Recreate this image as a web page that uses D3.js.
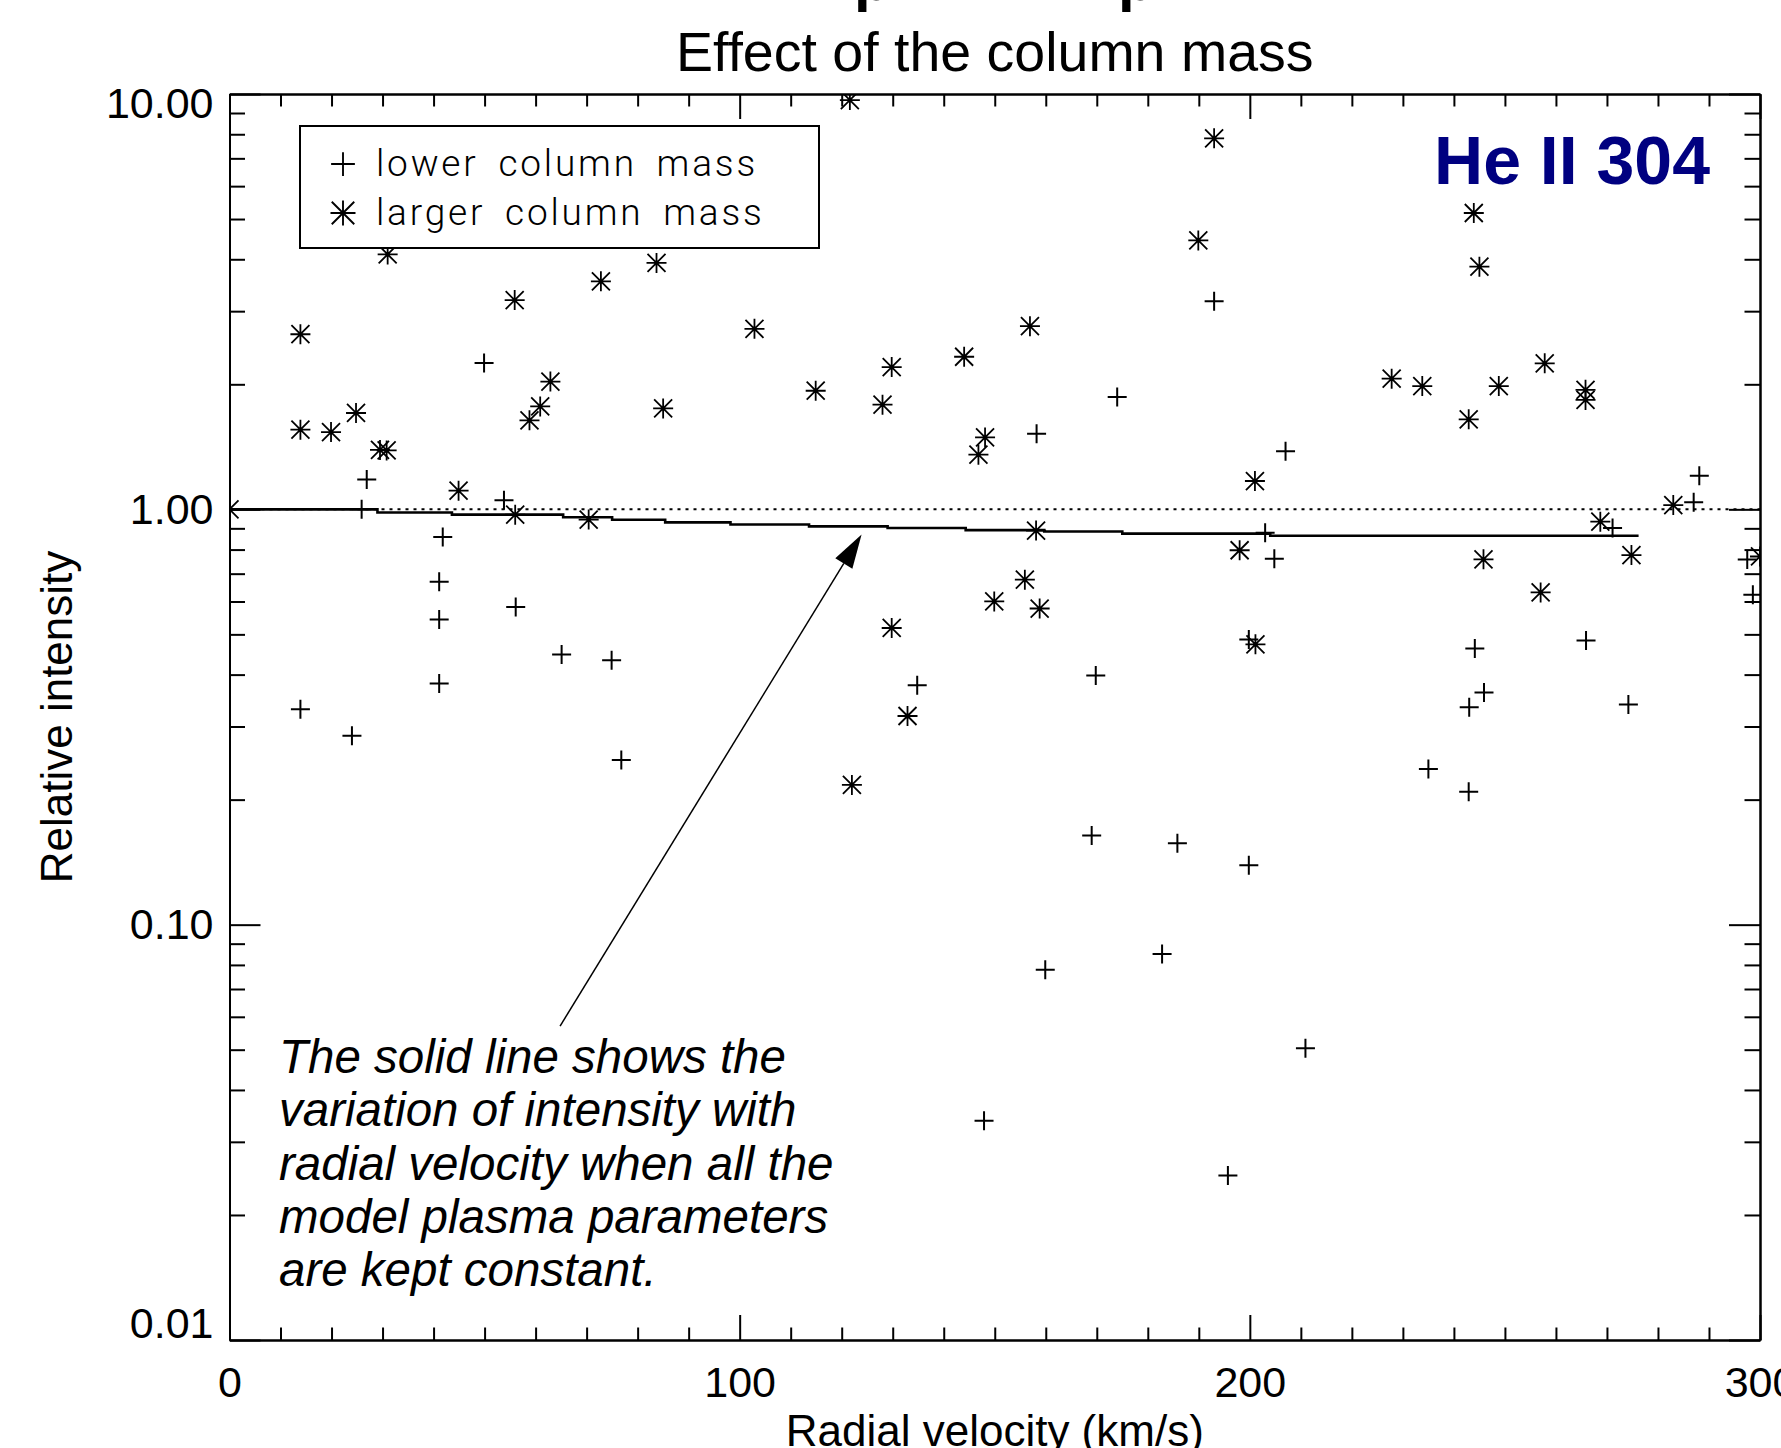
<!DOCTYPE html>
<html>
<head>
<meta charset="utf-8">
<script src="https://cdn.jsdelivr.net/npm/d3@7"></script>
<style>
  html, body { margin: 0; padding: 0; background: #fff; }
  svg { display: block; }
</style>
</head>
<body>
<script>
// ---------------- data ----------------
const xTicksMajor = [0, 100, 200, 300];
const xTickLabels = ["0", "100", "200", "300"];
const yTicksMajor = [0.01, 0.1, 1, 10];
const yTickLabels = ["0.01", "0.10", "1.00", "10.00"];

// "+" lower column mass : radial velocity (km/s), relative intensity
const lowerV = [13.9, 24.0, 25.9, 26.9, 41.8, 41.1, 41.1, 41.1, 49.9, 53.8, 56.1, 65.1, 74.9, 76.8,
  134.8, 147.9, 158.2, 159.9, 169.0, 169.8, 174.0, 182.8, 185.8, 193.0, 195.7, 199.8, 199.8,
  203.0, 204.8, 207.0, 210.9, 235.0, 243.0, 244.1, 242.9, 245.9, 265.9, 271.1, 274.2,
  287.0, 288.1, 297.5, 298.6];
const lowerI = [0.330, 0.285, 1.00, 1.18, 0.858, 0.669, 0.543, 0.381, 2.25, 1.051, 0.582, 0.447, 0.433, 0.249,
  0.377, 0.0337, 1.52, 0.0779, 0.164, 0.398, 1.864, 0.085, 0.157, 3.17, 0.0249, 0.486, 0.139,
  0.878, 0.760, 1.379, 0.0504, 0.237, 0.334, 0.462, 0.209, 0.362, 0.483, 0.902, 0.339,
  1.04, 1.205, 0.757, 0.623];

// "*" larger column mass
const largerV = [0, 13.9, 13.9, 19.9, 24.8, 29.5, 30.8, 31.0, 44.9, 55.9, 56.0, 58.8, 60.9, 62.9,
  70.4, 72.8, 83.7, 85.0, 102.9, 114.9, 121.6, 122.0, 128.0, 129.8, 129.8, 132.9, 144.0,
  146.8, 148.1, 149.9, 155.9, 156.9, 158.1, 158.8, 189.9, 193.0, 198.0, 201.1, 201.0,
  227.8, 233.8, 242.9, 243.9, 245.0, 245.8, 248.8, 257.0, 257.8, 265.8, 265.8, 268.7,
  274.8, 283.0, 300];
const largerI = [1.0, 2.64, 1.555, 1.535, 1.706, 1.39, 1.386, 4.11, 1.109, 3.19, 0.971, 1.638, 1.769, 2.03,
  0.945, 3.54, 3.92, 1.75, 2.72, 1.93, 9.67, 0.217, 1.786, 2.20, 0.518, 0.318, 2.33,
  1.354, 1.49, 0.600, 0.677, 2.76, 0.889, 0.577, 4.44, 7.82, 0.797, 0.473, 1.17,
  2.063, 1.98, 1.647, 5.17, 3.84, 0.758, 1.98, 0.631, 2.247, 1.94, 1.834, 0.934,
  0.776, 1.024, 0.77];

// solid line: constant plasma parameters
const lineV = [0, 29, 43.6, 65.4, 75, 85.4, 98.2, 113.6, 129, 144.3, 159.7, 175, 204, 276.2];
const lineI = [1.0, 0.983, 0.971, 0.957, 0.944, 0.930, 0.919, 0.910, 0.902, 0.891, 0.884, 0.874, 0.864, 0.864];

// reference level
const refV = [0, 300];
const refI = [1, 1];

// arrow annotation (tail, tip) in data space
const arrowV = [64.8, 123.9];
const arrowI = [0.057, 0.870];

const annotationLines = [
  "The solid line shows the",
  "variation of intensity with",
  "radial velocity when all the",
  "model plasma parameters",
  "are kept constant."
];
const legendLabels = ["lower column mass", "larger column mass"];

// ---------------- layout ----------------
const W = 1781, H = 1448;
const L = 229.5, R = 1760, T = 94, B = 1340;

const svg = d3.select("body").append("svg")
  .attr("width", W).attr("height", H)
  .attr("viewBox", `0 0 ${W} ${H}`);

const x = d3.scaleLinear().domain([0, 300]).range([L, R]);
const y = d3.scaleLog().domain([0.01, 10]).range([B, T]);

const FONT = "'Liberation Sans', Arial, Helvetica, sans-serif";

// clip
svg.append("defs").append("clipPath").attr("id", "plotclip")
  .append("rect").attr("x", L).attr("y", T).attr("width", R - L).attr("height", B - T);

// cut-off upper title descenders (the line above is outside the picture)
svg.append("g").selectAll("text").data(["p", "p"]).join("text")
  .attr("x", (d, i) => [854, 1118][i]).attr("y", 0)
  .attr("font-family", FONT).attr("font-weight", "bold").attr("font-size", 60)
  .text(d => d);

// title
svg.append("text")
  .attr("x", (L + R) / 2).attr("y", 71)
  .attr("text-anchor", "middle")
  .attr("font-family", FONT).attr("font-size", 55.5)
  .text("Effect of the column mass");

// ---------------- axes ----------------
const xMinor = d3.range(0, 301, 10).filter(v => v % 100 !== 0);
const yMinor = [];
[-2, -1, 0].forEach(k => { for (let m = 2; m <= 9; m++) yMinor.push(m * Math.pow(10, k)); });

function styleAxis(g) {
  g.selectAll("path.domain").attr("stroke", "#000").attr("stroke-width", 2);
  g.selectAll(".tick line").attr("stroke", "#000").attr("stroke-width", 2);
  g.selectAll(".tick text").attr("fill", "#000");
}

// bottom
svg.append("g").attr("transform", `translate(0,${B})`)
  .call(d3.axisBottom(x).tickValues(xTicksMajor).tickSizeInner(-25).tickSizeOuter(0).tickPadding(26)
    .tickFormat((d, i) => xTickLabels[i]))
  .call(g => g.selectAll("text").attr("font-family", FONT).attr("font-size", 43))
  .call(styleAxis);
svg.append("g").attr("transform", `translate(0,${B})`)
  .call(d3.axisBottom(x).tickValues(xMinor).tickSizeInner(-12.5).tickSizeOuter(0).tickFormat(""))
  .call(styleAxis);
// top
svg.append("g").attr("transform", `translate(0,${T})`)
  .call(d3.axisTop(x).tickValues(xTicksMajor).tickSizeInner(-25).tickSizeOuter(0).tickFormat(""))
  .call(styleAxis);
svg.append("g").attr("transform", `translate(0,${T})`)
  .call(d3.axisTop(x).tickValues(xMinor).tickSizeInner(-12.5).tickSizeOuter(0).tickFormat(""))
  .call(styleAxis);
// left
svg.append("g").attr("transform", `translate(${L},0)`)
  .call(d3.axisLeft(y).tickValues(yTicksMajor).tickSizeInner(-31).tickSizeOuter(0).tickPadding(16)
    .tickFormat((d, i) => yTickLabels[i]))
  .call(g => g.selectAll("text").attr("font-family", FONT).attr("font-size", 43)
    .attr("transform", d => d === 10 ? "translate(0,10)" : (d === 0.01 ? "translate(0,-16)" : null)))
  .call(styleAxis);
svg.append("g").attr("transform", `translate(${L},0)`)
  .call(d3.axisLeft(y).tickValues(yMinor).tickSizeInner(-15.5).tickSizeOuter(0).tickFormat(""))
  .call(styleAxis);
// right
svg.append("g").attr("transform", `translate(${R},0)`)
  .call(d3.axisRight(y).tickValues(yTicksMajor).tickSizeInner(-31).tickSizeOuter(0).tickFormat(""))
  .call(styleAxis);
svg.append("g").attr("transform", `translate(${R},0)`)
  .call(d3.axisRight(y).tickValues(yMinor).tickSizeInner(-15.5).tickSizeOuter(0).tickFormat(""))
  .call(styleAxis);

// axis titles
svg.append("text")
  .attr("x", (L + R) / 2).attr("y", 1446)
  .attr("text-anchor", "middle")
  .attr("font-family", FONT).attr("font-size", 44)
  .text("Radial velocity (km/s)");
svg.append("text")
  .attr("transform", `translate(72,${(T + B) / 2}) rotate(-90)`)
  .attr("text-anchor", "middle")
  .attr("font-family", FONT).attr("font-size", 44)
  .text("Relative intensity");

// ---------------- plot content ----------------
const plot = svg.append("g").attr("clip-path", "url(#plotclip)");

// dotted reference line at 1.0
plot.append("path")
  .datum(refV.map((v, i) => [v, refI[i]]))
  .attr("d", d3.line().x(d => x(d[0])).y(d => y(d[1])))
  .attr("fill", "none").attr("stroke", "#000").attr("stroke-width", 2)
  .attr("stroke-dasharray", "3,5");

// solid line
plot.append("path")
  .datum(lineV.map((v, i) => [v, lineI[i]]))
  .attr("d", d3.line().x(d => x(d[0])).y(d => y(d[1])).curve(d3.curveStepAfter))
  .attr("fill", "none").attr("stroke", "#000").attr("stroke-width", 2.6);

const plusPath = "M-9.5,0H9.5M0,-9.5V9.5";
const starPath = "M-10,0H10M0,-10V10M-9,-9L9,9M-9,9L9,-9";

plot.append("g").selectAll("path")
  .data(lowerV.map((v, i) => [v, lowerI[i]]))
  .join("path")
  .attr("transform", d => `translate(${x(d[0])},${y(d[1])})`)
  .attr("d", plusPath)
  .attr("fill", "none").attr("stroke", "#000").attr("stroke-width", 2);

plot.append("g").selectAll("path")
  .data(largerV.map((v, i) => [v, largerI[i]]))
  .join("path")
  .attr("transform", d => `translate(${x(d[0])},${y(d[1])})`)
  .attr("d", starPath)
  .attr("fill", "none").attr("stroke", "#000").attr("stroke-width", 1.8);

// ---------------- legend ----------------
const lg = svg.append("g");
lg.append("rect").attr("x", 300).attr("y", 126).attr("width", 519).attr("height", 122)
  .attr("fill", "#fff").attr("stroke", "#000").attr("stroke-width", 2);
const legendSym = [plusPath, starPath];
legendLabels.forEach((lab, i) => {
  const cy = 164 + i * 49;
  lg.append("path").attr("transform", `translate(343,${cy}) scale(1.25)`).attr("d", legendSym[i])
    .attr("fill", "none").attr("stroke", "#000").attr("stroke-width", 1.5);
  lg.append("text").attr("x", 376).attr("y", cy + 12)
    .attr("font-family", "Roboto, 'Liberation Sans', sans-serif").attr("font-weight", 300)
    .attr("font-size", 37).attr("letter-spacing", 2.8).attr("word-spacing", 8)
    .text(lab);
});

// He II 304 label
svg.append("text")
  .attr("x", 1710).attr("y", 184)
  .attr("text-anchor", "end")
  .attr("font-family", FONT).attr("font-weight", "bold").attr("font-size", 68)
  .attr("fill", "#000080")
  .text("He II 304");

// ---------------- annotation ----------------
const tail = [x(arrowV[0]), y(arrowI[0])];
const tip = [x(arrowV[1]), y(arrowI[1])];
const ang = Math.atan2(tip[1] - tail[1], tip[0] - tail[0]);
const headLen = 34, headHalf = 10;
const base = [tip[0] - headLen * Math.cos(ang), tip[1] - headLen * Math.sin(ang)];
svg.append("line")
  .attr("x1", tail[0]).attr("y1", tail[1]).attr("x2", base[0]).attr("y2", base[1])
  .attr("stroke", "#000").attr("stroke-width", 1.5);
svg.append("path")
  .attr("d", d3.line()([
    tip,
    [base[0] + headHalf * Math.sin(ang), base[1] - headHalf * Math.cos(ang)],
    [base[0] - headHalf * Math.sin(ang), base[1] + headHalf * Math.cos(ang)]
  ]) + "Z")
  .attr("fill", "#000");

svg.append("g").selectAll("text").data(annotationLines).join("text")
  .attr("x", 279).attr("y", (d, i) => 1073 + i * 53.3)
  .attr("font-family", FONT).attr("font-style", "italic").attr("font-size", 47.5)
  .text(d => d);
</script>
</body>
</html>
